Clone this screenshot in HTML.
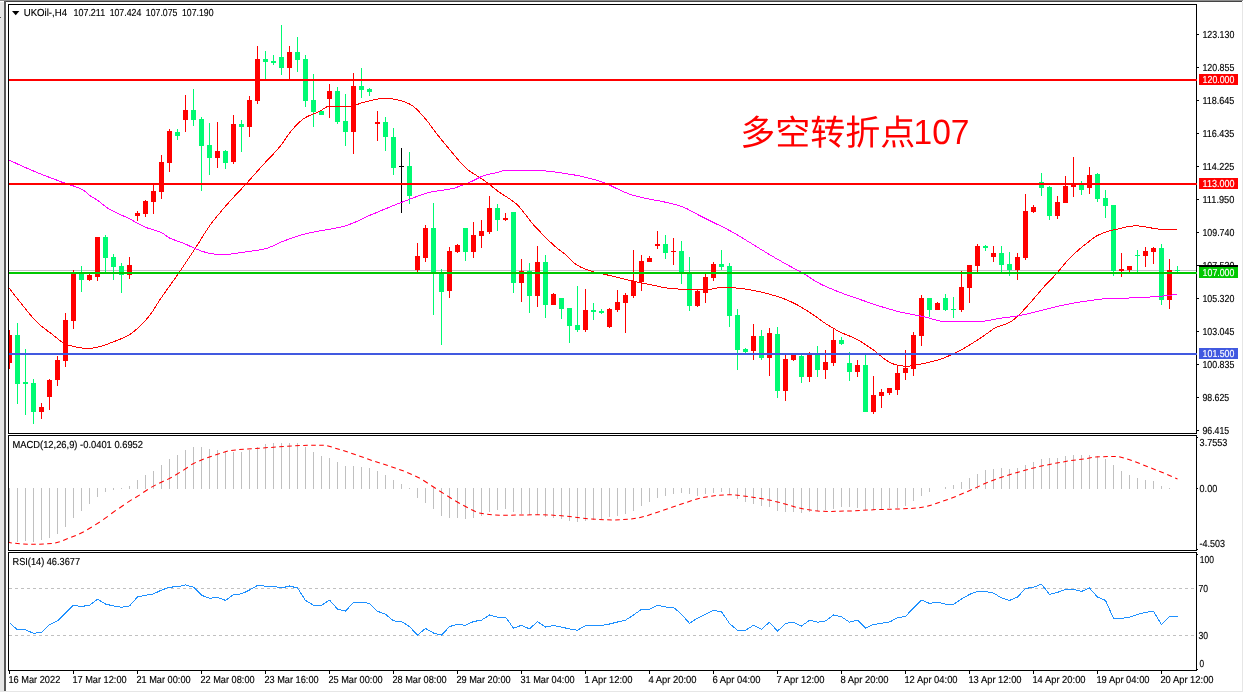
<!DOCTYPE html>
<html lang="zh">
<head>
<meta charset="utf-8">
<title>UKOil H4</title>
<style>
html,body{margin:0;padding:0;background:#fff;}
body{width:1244px;height:693px;overflow:hidden;font-family:"Liberation Sans",sans-serif;}
svg{display:block;will-change:transform;}
text{white-space:pre;text-rendering:geometricPrecision;}
</style>
</head>
<body>
<svg width="1244" height="693" viewBox="0 0 1244 693">
<rect x="0" y="0" width="1244" height="693" fill="#ffffff"/>
<rect x="0" y="0" width="1243" height="1" fill="#8e8e8e"/>
<rect x="4" y="1" width="1238" height="1" fill="#444444"/>
<rect x="0" y="2" width="4" height="689" fill="#e6e6e6"/>
<rect x="4" y="1" width="2" height="690" fill="#585858"/>
<rect x="1242" y="2" width="1" height="690" fill="#e6e6e6"/>
<rect x="0" y="691" width="1243" height="1" fill="#e6e6e6"/>
<rect x="0" y="17" width="1" height="1" fill="#555"/>
<rect x="8" y="4" width="1189" height="1" fill="#000000"/>
<rect x="8" y="433" width="1189" height="1" fill="#000000"/>
<rect x="8" y="4" width="1" height="430" fill="#000000"/>
<rect x="1196" y="4" width="1" height="430" fill="#000000"/>
<rect x="8" y="435" width="1189" height="1" fill="#000000"/>
<rect x="8" y="550" width="1189" height="1" fill="#000000"/>
<rect x="8" y="435" width="1" height="116" fill="#000000"/>
<rect x="1196" y="435" width="1" height="116" fill="#000000"/>
<rect x="8" y="552" width="1189" height="1" fill="#000000"/>
<rect x="8" y="670" width="1189" height="1" fill="#000000"/>
<rect x="8" y="552" width="1" height="119" fill="#000000"/>
<rect x="1196" y="552" width="1" height="119" fill="#000000"/>
<defs><clipPath id="cm"><rect x="9" y="5" width="1187" height="428"/></clipPath><clipPath id="c2"><rect x="9" y="436" width="1187" height="114"/></clipPath><clipPath id="c3"><rect x="9" y="553" width="1187" height="117"/></clipPath></defs>
<g clip-path="url(#cm)" shape-rendering="crispEdges">
<rect x="8" y="270" width="1188" height="1" fill="#c0c0c0"/>
<rect x="9" y="330" width="1" height="39" fill="#ff0000"/>
<rect x="7" y="335" width="5" height="28" fill="#ff0000"/>
<rect x="17" y="323" width="1" height="81" fill="#00fa72"/>
<rect x="15" y="335" width="5" height="49" fill="#00fa72"/>
<rect x="25" y="349" width="1" height="66" fill="#00fa72"/>
<rect x="23" y="382" width="5" height="2" fill="#00fa72"/>
<rect x="33" y="379" width="1" height="45" fill="#00fa72"/>
<rect x="31" y="383" width="5" height="29" fill="#00fa72"/>
<rect x="41" y="403" width="1" height="16" fill="#ff0000"/>
<rect x="39" y="407" width="5" height="5" fill="#ff0000"/>
<rect x="49" y="379" width="1" height="31" fill="#ff0000"/>
<rect x="47" y="380" width="5" height="17" fill="#ff0000"/>
<rect x="57" y="356" width="1" height="30" fill="#ff0000"/>
<rect x="55" y="360" width="5" height="20" fill="#ff0000"/>
<rect x="65" y="313" width="1" height="54" fill="#ff0000"/>
<rect x="63" y="320" width="5" height="41" fill="#ff0000"/>
<rect x="73" y="270" width="1" height="59" fill="#ff0000"/>
<rect x="71" y="273" width="5" height="48" fill="#ff0000"/>
<rect x="81" y="266" width="1" height="26" fill="#00fa72"/>
<rect x="79" y="273" width="5" height="7" fill="#00fa72"/>
<rect x="89" y="274" width="1" height="7" fill="#ff0000"/>
<rect x="87" y="275" width="5" height="5" fill="#ff0000"/>
<rect x="97" y="237" width="1" height="44" fill="#ff0000"/>
<rect x="95" y="237" width="5" height="40" fill="#ff0000"/>
<rect x="105" y="235" width="1" height="37" fill="#00fa72"/>
<rect x="103" y="237" width="5" height="21" fill="#00fa72"/>
<rect x="113" y="254" width="1" height="26" fill="#00fa72"/>
<rect x="111" y="257" width="5" height="10" fill="#00fa72"/>
<rect x="121" y="263" width="1" height="30" fill="#00fa72"/>
<rect x="119" y="266" width="5" height="9" fill="#00fa72"/>
<rect x="129" y="257" width="1" height="22" fill="#ff0000"/>
<rect x="127" y="265" width="5" height="10" fill="#ff0000"/>
<rect x="137" y="211" width="1" height="10" fill="#ff0000"/>
<rect x="135" y="213" width="5" height="3" fill="#ff0000"/>
<rect x="145" y="200" width="1" height="17" fill="#ff0000"/>
<rect x="143" y="201" width="5" height="13" fill="#ff0000"/>
<rect x="153" y="185" width="1" height="29" fill="#ff0000"/>
<rect x="151" y="191" width="5" height="11" fill="#ff0000"/>
<rect x="161" y="155" width="1" height="44" fill="#ff0000"/>
<rect x="159" y="162" width="5" height="30" fill="#ff0000"/>
<rect x="169" y="129" width="1" height="43" fill="#ff0000"/>
<rect x="167" y="131" width="5" height="32" fill="#ff0000"/>
<rect x="177" y="129" width="1" height="11" fill="#00fa72"/>
<rect x="175" y="132" width="5" height="4" fill="#00fa72"/>
<rect x="185" y="95" width="1" height="37" fill="#ff0000"/>
<rect x="183" y="110" width="5" height="10" fill="#ff0000"/>
<rect x="193" y="89" width="1" height="37" fill="#00fa72"/>
<rect x="191" y="110" width="5" height="10" fill="#00fa72"/>
<rect x="201" y="117" width="1" height="74" fill="#00fa72"/>
<rect x="199" y="119" width="5" height="27" fill="#00fa72"/>
<rect x="209" y="123" width="1" height="52" fill="#00fa72"/>
<rect x="207" y="145" width="5" height="13" fill="#00fa72"/>
<rect x="217" y="122" width="1" height="46" fill="#ff0000"/>
<rect x="215" y="151" width="5" height="7" fill="#ff0000"/>
<rect x="225" y="150" width="1" height="19" fill="#00fa72"/>
<rect x="223" y="151" width="5" height="12" fill="#00fa72"/>
<rect x="233" y="115" width="1" height="49" fill="#ff0000"/>
<rect x="231" y="124" width="5" height="38" fill="#ff0000"/>
<rect x="241" y="120" width="1" height="32" fill="#00fa72"/>
<rect x="239" y="124" width="5" height="3" fill="#00fa72"/>
<rect x="249" y="96" width="1" height="41" fill="#ff0000"/>
<rect x="247" y="100" width="5" height="27" fill="#ff0000"/>
<rect x="257" y="46" width="1" height="58" fill="#ff0000"/>
<rect x="255" y="59" width="5" height="42" fill="#ff0000"/>
<rect x="265" y="51" width="1" height="28" fill="#00fa72"/>
<rect x="263" y="59" width="5" height="3" fill="#00fa72"/>
<rect x="273" y="55" width="1" height="10" fill="#00fa72"/>
<rect x="271" y="61" width="5" height="2" fill="#00fa72"/>
<rect x="281" y="25" width="1" height="50" fill="#00fa72"/>
<rect x="279" y="57" width="5" height="11" fill="#00fa72"/>
<rect x="289" y="46" width="1" height="33" fill="#ff0000"/>
<rect x="287" y="52" width="5" height="16" fill="#ff0000"/>
<rect x="297" y="37" width="1" height="35" fill="#00fa72"/>
<rect x="295" y="52" width="5" height="8" fill="#00fa72"/>
<rect x="305" y="55" width="1" height="52" fill="#00fa72"/>
<rect x="303" y="59" width="5" height="42" fill="#00fa72"/>
<rect x="313" y="74" width="1" height="53" fill="#00fa72"/>
<rect x="311" y="100" width="5" height="12" fill="#00fa72"/>
<rect x="321" y="110" width="1" height="5" fill="#00fa72"/>
<rect x="319" y="111" width="5" height="4" fill="#00fa72"/>
<rect x="329" y="84" width="1" height="34" fill="#ff0000"/>
<rect x="327" y="91" width="5" height="8" fill="#ff0000"/>
<rect x="337" y="87" width="1" height="37" fill="#00fa72"/>
<rect x="335" y="91" width="5" height="31" fill="#00fa72"/>
<rect x="345" y="94" width="1" height="52" fill="#00fa72"/>
<rect x="343" y="121" width="5" height="11" fill="#00fa72"/>
<rect x="353" y="73" width="1" height="81" fill="#ff0000"/>
<rect x="351" y="86" width="5" height="46" fill="#ff0000"/>
<rect x="361" y="68" width="1" height="30" fill="#00fa72"/>
<rect x="359" y="86" width="5" height="4" fill="#00fa72"/>
<rect x="369" y="88" width="1" height="8" fill="#00fa72"/>
<rect x="367" y="89" width="5" height="3" fill="#00fa72"/>
<rect x="377" y="111" width="1" height="30" fill="#ff0000"/>
<rect x="375" y="122" width="5" height="2" fill="#ff0000"/>
<rect x="385" y="117" width="1" height="34" fill="#00fa72"/>
<rect x="383" y="122" width="5" height="15" fill="#00fa72"/>
<rect x="393" y="128" width="1" height="47" fill="#00fa72"/>
<rect x="391" y="137" width="5" height="31" fill="#00fa72"/>
<rect x="401" y="148" width="1" height="65" fill="#000000"/>
<rect x="399" y="166" width="5" height="1" fill="#000000"/>
<rect x="409" y="152" width="1" height="52" fill="#00fa72"/>
<rect x="407" y="166" width="5" height="30" fill="#00fa72"/>
<rect x="417" y="243" width="1" height="29" fill="#ff0000"/>
<rect x="415" y="256" width="5" height="14" fill="#ff0000"/>
<rect x="425" y="225" width="1" height="37" fill="#ff0000"/>
<rect x="423" y="228" width="5" height="30" fill="#ff0000"/>
<rect x="433" y="203" width="1" height="112" fill="#00fa72"/>
<rect x="431" y="228" width="5" height="44" fill="#00fa72"/>
<rect x="441" y="269" width="1" height="76" fill="#00fa72"/>
<rect x="439" y="274" width="5" height="18" fill="#00fa72"/>
<rect x="449" y="247" width="1" height="51" fill="#ff0000"/>
<rect x="447" y="251" width="5" height="40" fill="#ff0000"/>
<rect x="457" y="244" width="1" height="9" fill="#ff0000"/>
<rect x="455" y="245" width="5" height="7" fill="#ff0000"/>
<rect x="465" y="228" width="1" height="33" fill="#00fa72"/>
<rect x="463" y="228" width="5" height="24" fill="#00fa72"/>
<rect x="473" y="222" width="1" height="36" fill="#ff0000"/>
<rect x="471" y="235" width="5" height="17" fill="#ff0000"/>
<rect x="481" y="220" width="1" height="28" fill="#ff0000"/>
<rect x="479" y="231" width="5" height="5" fill="#ff0000"/>
<rect x="489" y="196" width="1" height="38" fill="#ff0000"/>
<rect x="487" y="208" width="5" height="24" fill="#ff0000"/>
<rect x="497" y="204" width="1" height="27" fill="#00fa72"/>
<rect x="495" y="208" width="5" height="12" fill="#00fa72"/>
<rect x="505" y="213" width="1" height="8" fill="#ff0000"/>
<rect x="503" y="218" width="5" height="2" fill="#ff0000"/>
<rect x="513" y="212" width="1" height="81" fill="#00fa72"/>
<rect x="511" y="212" width="5" height="71" fill="#00fa72"/>
<rect x="521" y="259" width="1" height="43" fill="#ff0000"/>
<rect x="519" y="271" width="5" height="12" fill="#ff0000"/>
<rect x="529" y="263" width="1" height="50" fill="#00fa72"/>
<rect x="527" y="271" width="5" height="25" fill="#00fa72"/>
<rect x="537" y="246" width="1" height="61" fill="#ff0000"/>
<rect x="535" y="262" width="5" height="34" fill="#ff0000"/>
<rect x="545" y="255" width="1" height="63" fill="#00fa72"/>
<rect x="543" y="262" width="5" height="43" fill="#00fa72"/>
<rect x="553" y="293" width="1" height="12" fill="#ff0000"/>
<rect x="551" y="294" width="5" height="11" fill="#ff0000"/>
<rect x="561" y="298" width="1" height="21" fill="#00fa72"/>
<rect x="559" y="298" width="5" height="11" fill="#00fa72"/>
<rect x="569" y="308" width="1" height="35" fill="#00fa72"/>
<rect x="567" y="308" width="5" height="18" fill="#00fa72"/>
<rect x="577" y="286" width="1" height="46" fill="#00fa72"/>
<rect x="575" y="325" width="5" height="5" fill="#00fa72"/>
<rect x="585" y="289" width="1" height="43" fill="#ff0000"/>
<rect x="583" y="310" width="5" height="20" fill="#ff0000"/>
<rect x="593" y="303" width="1" height="17" fill="#00fa72"/>
<rect x="591" y="310" width="5" height="2" fill="#00fa72"/>
<rect x="601" y="309" width="1" height="5" fill="#00fa72"/>
<rect x="599" y="311" width="5" height="2" fill="#00fa72"/>
<rect x="609" y="308" width="1" height="20" fill="#ff0000"/>
<rect x="607" y="309" width="5" height="18" fill="#ff0000"/>
<rect x="617" y="290" width="1" height="22" fill="#ff0000"/>
<rect x="615" y="302" width="5" height="8" fill="#ff0000"/>
<rect x="625" y="293" width="1" height="40" fill="#ff0000"/>
<rect x="623" y="295" width="5" height="8" fill="#ff0000"/>
<rect x="633" y="250" width="1" height="48" fill="#ff0000"/>
<rect x="631" y="281" width="5" height="15" fill="#ff0000"/>
<rect x="641" y="255" width="1" height="36" fill="#ff0000"/>
<rect x="639" y="261" width="5" height="21" fill="#ff0000"/>
<rect x="649" y="256" width="1" height="6" fill="#ff0000"/>
<rect x="647" y="258" width="5" height="4" fill="#ff0000"/>
<rect x="657" y="231" width="1" height="18" fill="#ff0000"/>
<rect x="655" y="244" width="5" height="2" fill="#ff0000"/>
<rect x="665" y="235" width="1" height="24" fill="#00fa72"/>
<rect x="663" y="244" width="5" height="9" fill="#00fa72"/>
<rect x="673" y="238" width="1" height="27" fill="#ff0000"/>
<rect x="671" y="251" width="5" height="1" fill="#ff0000"/>
<rect x="681" y="241" width="1" height="43" fill="#00fa72"/>
<rect x="679" y="251" width="5" height="22" fill="#00fa72"/>
<rect x="689" y="257" width="1" height="54" fill="#00fa72"/>
<rect x="687" y="274" width="5" height="32" fill="#00fa72"/>
<rect x="697" y="289" width="1" height="18" fill="#ff0000"/>
<rect x="695" y="291" width="5" height="15" fill="#ff0000"/>
<rect x="705" y="274" width="1" height="29" fill="#ff0000"/>
<rect x="703" y="277" width="5" height="16" fill="#ff0000"/>
<rect x="713" y="262" width="1" height="19" fill="#ff0000"/>
<rect x="711" y="264" width="5" height="14" fill="#ff0000"/>
<rect x="721" y="250" width="1" height="20" fill="#00fa72"/>
<rect x="719" y="264" width="5" height="3" fill="#00fa72"/>
<rect x="729" y="263" width="1" height="64" fill="#00fa72"/>
<rect x="727" y="266" width="5" height="50" fill="#00fa72"/>
<rect x="737" y="309" width="1" height="61" fill="#00fa72"/>
<rect x="735" y="315" width="5" height="35" fill="#00fa72"/>
<rect x="745" y="348" width="1" height="5" fill="#00fa72"/>
<rect x="743" y="349" width="5" height="3" fill="#00fa72"/>
<rect x="753" y="324" width="1" height="36" fill="#ff0000"/>
<rect x="751" y="336" width="5" height="15" fill="#ff0000"/>
<rect x="761" y="330" width="1" height="30" fill="#00fa72"/>
<rect x="759" y="336" width="5" height="22" fill="#00fa72"/>
<rect x="769" y="328" width="1" height="48" fill="#ff0000"/>
<rect x="767" y="333" width="5" height="25" fill="#ff0000"/>
<rect x="777" y="327" width="1" height="71" fill="#00fa72"/>
<rect x="775" y="334" width="5" height="57" fill="#00fa72"/>
<rect x="785" y="355" width="1" height="46" fill="#ff0000"/>
<rect x="783" y="359" width="5" height="32" fill="#ff0000"/>
<rect x="793" y="354" width="1" height="7" fill="#ff0000"/>
<rect x="791" y="354" width="5" height="6" fill="#ff0000"/>
<rect x="801" y="355" width="1" height="28" fill="#00fa72"/>
<rect x="799" y="356" width="5" height="21" fill="#00fa72"/>
<rect x="809" y="352" width="1" height="30" fill="#ff0000"/>
<rect x="807" y="354" width="5" height="23" fill="#ff0000"/>
<rect x="817" y="346" width="1" height="31" fill="#00fa72"/>
<rect x="815" y="355" width="5" height="15" fill="#00fa72"/>
<rect x="825" y="350" width="1" height="29" fill="#ff0000"/>
<rect x="823" y="362" width="5" height="8" fill="#ff0000"/>
<rect x="833" y="329" width="1" height="37" fill="#ff0000"/>
<rect x="831" y="340" width="5" height="23" fill="#ff0000"/>
<rect x="841" y="337" width="1" height="8" fill="#00fa72"/>
<rect x="839" y="340" width="5" height="4" fill="#00fa72"/>
<rect x="849" y="352" width="1" height="29" fill="#00fa72"/>
<rect x="847" y="363" width="5" height="9" fill="#00fa72"/>
<rect x="857" y="360" width="1" height="17" fill="#ff0000"/>
<rect x="855" y="365" width="5" height="7" fill="#ff0000"/>
<rect x="865" y="355" width="1" height="57" fill="#00fa72"/>
<rect x="863" y="365" width="5" height="47" fill="#00fa72"/>
<rect x="873" y="376" width="1" height="38" fill="#ff0000"/>
<rect x="871" y="395" width="5" height="17" fill="#ff0000"/>
<rect x="881" y="389" width="1" height="19" fill="#ff0000"/>
<rect x="879" y="392" width="5" height="4" fill="#ff0000"/>
<rect x="889" y="388" width="1" height="7" fill="#ff0000"/>
<rect x="887" y="388" width="5" height="5" fill="#ff0000"/>
<rect x="897" y="365" width="1" height="30" fill="#ff0000"/>
<rect x="895" y="373" width="5" height="17" fill="#ff0000"/>
<rect x="905" y="350" width="1" height="30" fill="#ff0000"/>
<rect x="903" y="368" width="5" height="5" fill="#ff0000"/>
<rect x="913" y="332" width="1" height="44" fill="#ff0000"/>
<rect x="911" y="335" width="5" height="34" fill="#ff0000"/>
<rect x="921" y="295" width="1" height="51" fill="#ff0000"/>
<rect x="919" y="298" width="5" height="38" fill="#ff0000"/>
<rect x="929" y="298" width="1" height="19" fill="#00fa72"/>
<rect x="927" y="298" width="5" height="12" fill="#00fa72"/>
<rect x="937" y="302" width="1" height="8" fill="#ff0000"/>
<rect x="935" y="303" width="5" height="7" fill="#ff0000"/>
<rect x="945" y="294" width="1" height="17" fill="#00fa72"/>
<rect x="943" y="298" width="5" height="12" fill="#00fa72"/>
<rect x="953" y="297" width="1" height="21" fill="#00fa72"/>
<rect x="951" y="309" width="5" height="1" fill="#00fa72"/>
<rect x="961" y="271" width="1" height="41" fill="#ff0000"/>
<rect x="959" y="287" width="5" height="23" fill="#ff0000"/>
<rect x="969" y="265" width="1" height="38" fill="#ff0000"/>
<rect x="967" y="265" width="5" height="23" fill="#ff0000"/>
<rect x="977" y="244" width="1" height="28" fill="#ff0000"/>
<rect x="975" y="246" width="5" height="20" fill="#ff0000"/>
<rect x="985" y="245" width="1" height="6" fill="#00fa72"/>
<rect x="983" y="246" width="5" height="2" fill="#00fa72"/>
<rect x="993" y="246" width="1" height="16" fill="#ff0000"/>
<rect x="991" y="253" width="5" height="4" fill="#ff0000"/>
<rect x="1001" y="246" width="1" height="26" fill="#00fa72"/>
<rect x="999" y="253" width="5" height="12" fill="#00fa72"/>
<rect x="1009" y="252" width="1" height="24" fill="#00fa72"/>
<rect x="1007" y="264" width="5" height="6" fill="#00fa72"/>
<rect x="1017" y="253" width="1" height="27" fill="#ff0000"/>
<rect x="1015" y="257" width="5" height="13" fill="#ff0000"/>
<rect x="1025" y="194" width="1" height="66" fill="#ff0000"/>
<rect x="1023" y="211" width="5" height="47" fill="#ff0000"/>
<rect x="1033" y="205" width="1" height="8" fill="#ff0000"/>
<rect x="1031" y="207" width="5" height="5" fill="#ff0000"/>
<rect x="1041" y="173" width="1" height="23" fill="#00fa72"/>
<rect x="1039" y="182" width="5" height="6" fill="#00fa72"/>
<rect x="1049" y="186" width="1" height="34" fill="#00fa72"/>
<rect x="1047" y="187" width="5" height="29" fill="#00fa72"/>
<rect x="1057" y="196" width="1" height="23" fill="#ff0000"/>
<rect x="1055" y="202" width="5" height="14" fill="#ff0000"/>
<rect x="1065" y="176" width="1" height="27" fill="#ff0000"/>
<rect x="1063" y="186" width="5" height="17" fill="#ff0000"/>
<rect x="1073" y="157" width="1" height="40" fill="#ff0000"/>
<rect x="1071" y="183" width="5" height="4" fill="#ff0000"/>
<rect x="1081" y="181" width="1" height="14" fill="#00fa72"/>
<rect x="1079" y="184" width="5" height="6" fill="#00fa72"/>
<rect x="1089" y="167" width="1" height="27" fill="#ff0000"/>
<rect x="1087" y="175" width="5" height="13" fill="#ff0000"/>
<rect x="1097" y="173" width="1" height="29" fill="#00fa72"/>
<rect x="1095" y="174" width="5" height="25" fill="#00fa72"/>
<rect x="1105" y="190" width="1" height="28" fill="#00fa72"/>
<rect x="1103" y="198" width="5" height="8" fill="#00fa72"/>
<rect x="1113" y="205" width="1" height="71" fill="#00fa72"/>
<rect x="1111" y="205" width="5" height="66" fill="#00fa72"/>
<rect x="1121" y="253" width="1" height="24" fill="#ff0000"/>
<rect x="1119" y="269" width="5" height="2" fill="#ff0000"/>
<rect x="1129" y="266" width="1" height="6" fill="#ff0000"/>
<rect x="1127" y="266" width="5" height="4" fill="#ff0000"/>
<rect x="1137" y="250" width="1" height="24" fill="#00fa72"/>
<rect x="1135" y="255" width="5" height="1" fill="#00fa72"/>
<rect x="1145" y="247" width="1" height="20" fill="#ff0000"/>
<rect x="1143" y="251" width="5" height="5" fill="#ff0000"/>
<rect x="1153" y="247" width="1" height="17" fill="#ff0000"/>
<rect x="1151" y="248" width="5" height="4" fill="#ff0000"/>
<rect x="1161" y="244" width="1" height="61" fill="#00fa72"/>
<rect x="1159" y="248" width="5" height="52" fill="#00fa72"/>
<rect x="1169" y="259" width="1" height="50" fill="#ff0000"/>
<rect x="1167" y="270" width="5" height="30" fill="#ff0000"/>
<rect x="1177" y="266" width="1" height="6" fill="#00fa72"/>
<rect x="1175" y="270" width="5" height="1" fill="#00fa72"/>
</g>
<g clip-path="url(#cm)">
<polyline points="8,286.6 10,289.2 12,291.9 14,294.4 16,297 18,299.5 20,302 22,304.5 24,307 26,309.5 28,312 30,314.4 32,316.8 34,319 36,321.1 38,323.1 40,324.9 42,326.6 44,328.2 46,329.7 48,331.3 50,332.7 52,334.2 54,335.8 56,337.4 58,339.1 60,340.6 62,342.1 64,343.2 66,344.1 68,344.9 70,345.5 72,346.1 74,346.6 76,347 78,347.4 80,347.7 82,348 84,348.3 86,348.4 88,348.5 90,348.4 92,348.2 94,347.8 96,347.4 98,347 100,346.5 102,346 104,345.4 106,344.7 108,343.9 110,343.1 112,342.3 114,341.6 116,340.8 118,340 120,339.2 122,338.4 124,337.5 126,336.5 128,335.5 130,334.3 132,332.9 134,331.4 136,329.7 138,327.9 140,326 142,324.1 144,322 146,319.8 148,317.5 150,315 152,312.2 154,309.2 156,305.9 158,302.7 160,299.6 162,296.7 164,293.8 166,291 168,288.2 170,285.4 172,282.6 174,279.8 176,277 178,274.1 180,271.2 182,268.2 184,265.3 186,262.3 188,259.3 190,256.3 192,253.3 194,250.2 196,247.2 198,244 200,240.8 202,237.5 204,234.3 206,231.2 208,228.2 210,225.3 212,222.6 214,220 216,217.5 218,215.1 220,212.7 222,210.3 224,208 226,205.7 228,203.4 230,201.2 232,198.9 234,196.8 236,194.6 238,192.5 240,190.4 242,188.3 244,186.2 246,184 248,181.8 250,179.6 252,177.3 254,175 256,172.8 258,170.5 260,168.2 262,166 264,163.8 266,161.7 268,159.6 270,157.5 272,155.4 274,153.3 276,151.1 278,148.8 280,146.4 282,143.8 284,141 286,138.1 288,135.2 290,132.4 292,130 294,127.8 296,125.6 298,123.5 300,121.6 302,119.9 304,118.5 306,117.3 308,116.3 310,115.3 312,114.5 314,113.7 316,112.9 318,112 320,111.1 322,109.9 324,108.5 326,107.2 328,106.4 330,106.3 332,106.3 334,106.3 336,106.3 338,106.3 340,106.3 342,106.3 344,106.3 346,106.3 348,106.3 350,106.3 352,106 354,105.5 356,104.9 358,104.2 360,103.5 362,102.8 364,102.2 366,101.8 368,101.3 370,100.8 372,100.3 374,99.8 376,99.4 378,99 380,98.7 382,98.4 384,98.3 386,98.3 388,98.4 390,98.6 392,98.9 394,99.2 396,99.6 398,100 400,100.4 402,101 404,101.7 406,102.4 408,103.3 410,104.3 412,105.5 414,106.9 416,108.7 418,110.6 420,112.7 422,114.9 424,117.2 426,119.5 428,121.9 430,124.7 432,127.5 434,130.3 436,132.9 438,135.4 440,137.9 442,140.4 444,142.8 446,145.3 448,147.6 450,150 452,152.4 454,154.8 456,157.2 458,159.6 460,162 462,164.2 464,166.2 466,168.1 468,169.8 470,171.3 472,172.7 474,174 476,175.2 478,176.4 480,177.6 482,178.9 484,180.3 486,181.8 488,183.3 490,184.9 492,186.5 494,188.2 496,189.7 498,191.3 500,192.7 502,194.1 504,195.3 506,196.6 508,197.8 510,199.1 512,200.5 514,202 516,203.6 518,205.5 520,207.7 522,210.1 524,212.7 526,215.3 528,218 530,220.5 532,223 534,225.3 536,227.4 538,229.6 540,231.7 542,233.8 544,235.9 546,237.9 548,239.8 550,241.8 552,243.6 554,245.4 556,247.2 558,248.8 560,250.3 562,251.8 564,253.4 566,255.1 568,257 570,259 572,260.9 574,262.8 576,264.4 578,265.6 580,266.7 582,267.7 584,268.6 586,269.4 588,270.1 590,270.8 592,271.4 594,272 596,272.5 598,273 600,273.4 602,273.9 604,274.3 606,274.7 608,275.1 610,275.5 612,276 614,276.5 616,277 618,277.5 620,278 622,278.5 624,279 626,279.5 628,279.9 630,280.4 632,280.9 634,281.3 636,281.8 638,282.2 640,282.6 642,283 644,283.4 646,283.8 648,284.2 650,284.6 652,285 654,285.4 656,285.8 658,286.3 660,286.7 662,287.2 664,287.6 666,287.9 668,288.3 670,288.5 672,288.7 674,288.8 676,288.9 678,289 680,289.1 682,289.2 684,289.3 686,289.3 688,289.4 690,289.5 692,289.5 694,289.6 696,289.6 698,289.6 700,289.7 702,289.7 704,289.7 706,289.7 708,289.5 710,289.3 712,289 714,288.7 716,288.4 718,287.8 720,287.3 722,287.1 724,287.1 726,287.2 728,287.3 730,287.5 732,287.6 734,287.8 736,288 738,288.2 740,288.4 742,288.7 744,288.9 746,289.2 748,289.5 750,289.8 752,290.2 754,290.6 756,291 758,291.4 760,291.9 762,292.3 764,292.8 766,293.3 768,293.8 770,294.3 772,294.9 774,295.5 776,296.1 778,296.7 780,297.4 782,298.1 784,298.8 786,299.6 788,300.4 790,301.3 792,302.2 794,303.2 796,304.2 798,305.3 800,306.5 802,307.7 804,308.9 806,310.1 808,311.4 810,312.7 812,313.9 814,315.3 816,316.7 818,318.2 820,319.6 822,321.1 824,322.5 826,323.8 828,325 830,326.3 832,327.5 834,328.6 836,329.8 838,330.9 840,331.9 842,332.9 844,333.8 846,334.6 848,335.4 850,336.2 852,337 854,337.9 856,338.8 858,339.9 860,341.1 862,342.4 864,343.7 866,345 868,346.3 870,347.7 872,349 874,350.4 876,351.9 878,353.6 880,355.4 882,357.1 884,358.7 886,360 888,361.3 890,362.4 892,363.4 894,364.2 896,364.8 898,365.2 900,365.5 902,365.8 904,366.1 906,366.2 908,366.2 910,366 912,365.8 914,365.4 916,365 918,364.5 920,364.1 922,363.8 924,363.4 926,362.9 928,362.5 930,362.1 932,361.6 934,361.1 936,360.5 938,360 940,359.3 942,358.6 944,357.9 946,357.1 948,356.2 950,355.4 952,354.5 954,353.5 956,352.6 958,351.6 960,350.6 962,349.5 964,348.3 966,347.2 968,346 970,344.7 972,343.5 974,342.2 976,340.9 978,339.6 980,338.3 982,336.9 984,335.6 986,334.2 988,332.8 990,331.3 992,329.8 994,328.5 996,327.3 998,326.4 1000,325.9 1002,325.4 1004,324.8 1006,324 1008,323.1 1010,322 1012,320.8 1014,319.4 1016,317.6 1018,315.7 1020,313.8 1022,311.8 1024,309.7 1026,307.6 1028,305.3 1030,303.1 1032,300.8 1034,298.5 1036,296.1 1038,293.7 1040,291.4 1042,289 1044,286.8 1046,284.6 1048,282.5 1050,280.5 1052,278.4 1054,276.3 1056,274.2 1058,271.9 1060,269.5 1062,267 1064,264.5 1066,262.2 1068,259.9 1070,257.9 1072,255.9 1074,254 1076,252.2 1078,250.4 1080,248.7 1082,247 1084,245.4 1086,243.8 1088,242.3 1090,240.7 1092,239.1 1094,237.6 1096,236.3 1098,235.2 1100,234.3 1102,233.4 1104,232.7 1106,232 1108,231.4 1110,230.8 1112,230.3 1114,229.8 1116,229.4 1118,228.9 1120,228.5 1122,228 1124,227.5 1126,227.1 1128,226.7 1130,226.3 1132,226.1 1134,225.9 1136,225.8 1138,225.9 1140,226.1 1142,226.4 1144,226.7 1146,227 1148,227.3 1150,227.7 1152,228.1 1154,228.5 1156,228.8 1158,229 1160,229.1 1162,229.2 1164,229.2 1166,229.3 1168,229.3 1170,229.3 1172,229.4 1174,229.4 1176,229.4 1177.3,229.4" fill="none" stroke="#ff0000" stroke-width="1" stroke-linejoin="round" shape-rendering="crispEdges"/>
<polyline points="9,160 11,161 13,161.9 15,162.8 17,163.7 19,164.7 21,165.6 23,166.5 25,167.4 27,168.2 29,169.1 31,170 33,170.8 35,171.7 37,172.5 39,173.3 41,174.1 43,174.9 45,175.7 47,176.4 49,177.2 51,177.9 53,178.7 55,179.5 57,180.2 59,181 61,181.8 63,182.5 65,183.2 67,183.9 69,184.5 71,185.2 73,185.8 75,186.6 77,187.3 79,188 81,188.9 83,189.9 85,191.4 87,193.1 89,194.9 91,196.3 93,197.6 95,198.7 97,199.9 99,201.3 101,202.9 103,204.6 105,206.2 107,207.7 109,208.9 111,210 113,211 115,212.1 117,213 119,214 121,214.9 123,215.8 125,216.7 127,217.6 129,218.6 131,219.6 133,220.7 135,221.8 137,223 139,224.1 141,225.1 143,226.1 145,227 147,227.8 149,228.5 151,229.1 153,229.7 155,230.3 157,230.9 159,231.6 161,232.4 163,233.5 165,234.9 167,236.4 169,237.7 171,238.7 173,239.5 175,240.2 177,240.9 179,241.6 181,242.3 183,243.1 185,243.9 187,244.8 189,245.7 191,246.7 193,247.6 195,248.5 197,249.4 199,250.1 201,250.9 203,251.5 205,252.2 207,252.8 209,253.2 211,253.6 213,253.9 215,254.2 217,254.5 219,254.7 221,254.8 223,254.8 225,254.7 227,254.5 229,254.3 231,254 233,253.7 235,253.4 237,253.1 239,252.8 241,252.5 243,252.2 245,252 247,251.7 249,251.5 251,251.2 253,250.9 255,250.6 257,250.3 259,250 261,249.6 263,249.2 265,248.8 267,248.2 269,247.6 271,246.7 273,245.9 275,244.9 277,243.9 279,243 281,242.1 283,241.3 285,240.6 287,239.8 289,239.1 291,238.3 293,237.6 295,236.9 297,236.3 299,235.6 301,235 303,234.4 305,233.9 307,233.4 309,233 311,232.5 313,232.1 315,231.8 317,231.4 319,231.1 321,230.7 323,230.4 325,230.1 327,229.7 329,229.4 331,229 333,228.7 335,228.3 337,227.9 339,227.4 341,227 343,226.5 345,225.9 347,225.3 349,224.6 351,223.8 353,223 355,222.2 357,221.3 359,220.4 361,219.4 363,218.5 365,217.6 367,216.6 369,215.7 371,214.8 373,214 375,213.2 377,212.3 379,211.5 381,210.7 383,209.8 385,209 387,208.2 389,207.3 391,206.5 393,205.7 395,204.9 397,204.1 399,203.3 401,202.6 403,201.8 405,201.1 407,200.3 409,199.5 411,198.7 413,198 415,197.2 417,196.5 419,195.7 421,195 423,194.4 425,193.7 427,193.1 429,192.6 431,192.1 433,191.7 435,191.3 437,191 439,190.7 441,190.5 443,190.2 445,189.9 447,189.6 449,189.3 451,188.9 453,188.4 455,187.9 457,187.2 459,186.5 461,185.8 463,185 465,184.2 467,183.4 469,182.6 471,181.7 473,180.8 475,179.8 477,178.7 479,177.7 481,176.8 483,175.9 485,175.3 487,174.7 489,174.3 491,173.8 493,173.4 495,173 497,172.6 499,172.1 501,171.5 503,170.6 505,170.3 507,170.3 509,170.3 511,170.3 513,170.3 515,170.3 517,170.3 519,170.3 521,170.3 523,170.3 525,170.3 527,170.3 529,170.3 531,170.3 533,170.3 535,170.3 537,170.4 539,170.4 541,170.5 543,170.7 545,170.9 547,171.1 549,171.3 551,171.5 553,171.8 555,172 557,172.3 559,172.6 561,172.9 563,173.2 565,173.5 567,173.8 569,174.1 571,174.4 573,174.7 575,175.1 577,175.5 579,175.9 581,176.3 583,176.7 585,177.2 587,177.7 589,178.2 591,178.7 593,179.2 595,179.8 597,180.3 599,180.9 601,181.6 603,182.3 605,183.2 607,184 609,184.9 611,185.8 613,186.8 615,187.7 617,188.7 619,189.6 621,190.6 623,191.5 625,192.3 627,193.1 629,193.9 631,194.6 633,195.2 635,195.8 637,196.3 639,196.8 641,197.3 643,197.7 645,198.2 647,198.6 649,199 651,199.4 653,199.8 655,200.1 657,200.5 659,200.9 661,201.3 663,201.7 665,202.1 667,202.5 669,203 671,203.5 673,204 675,204.5 677,205.1 679,205.7 681,206.3 683,207 685,207.9 687,208.8 689,209.8 691,210.9 693,212 695,213.1 697,214.2 699,215.3 701,216.3 703,217.3 705,218.3 707,219.3 709,220.3 711,221.3 713,222.2 715,223.2 717,224.2 719,225.1 721,226.1 723,227.1 725,228.1 727,229.2 729,230.2 731,231.3 733,232.4 735,233.6 737,234.7 739,235.9 741,237.1 743,238.3 745,239.5 747,240.8 749,242 751,243.2 753,244.5 755,245.7 757,246.9 759,248.2 761,249.4 763,250.6 765,251.8 767,253.1 769,254.3 771,255.5 773,256.6 775,257.8 777,259 779,260.1 781,261.2 783,262.4 785,263.5 787,264.6 789,265.7 791,266.8 793,267.8 795,268.9 797,269.9 799,270.9 801,272 803,273.2 805,274.5 807,275.7 809,277 811,278.3 813,279.6 815,280.9 817,282.1 819,283.2 821,284.2 823,285.2 825,286.1 827,287 829,287.9 831,288.7 833,289.6 835,290.4 837,291.2 839,292 841,292.7 843,293.5 845,294.3 847,295 849,295.7 851,296.4 853,297.1 855,297.8 857,298.4 859,299.1 861,299.8 863,300.5 865,301.2 867,301.9 869,302.7 871,303.3 873,304 875,304.6 877,305.3 879,305.9 881,306.5 883,307.2 885,307.8 887,308.4 889,309 891,309.5 893,310.1 895,310.6 897,311.2 899,311.7 901,312.2 903,312.6 905,313.1 907,313.5 909,313.9 911,314.3 913,314.6 915,315 917,315.4 919,315.7 921,316.1 923,316.5 925,317 927,317.5 929,318.1 931,318.7 933,319.3 935,319.9 937,320.3 939,320.8 941,321.1 943,321.3 945,321.3 947,321.3 949,321.3 951,321.3 953,321.3 955,321.3 957,321.3 959,321.3 961,321.3 963,321.3 965,321.3 967,321.3 969,321.3 971,321.3 973,321.3 975,321.3 977,321.3 979,321.3 981,321.3 983,321.2 985,321 987,320.7 989,320.4 991,320 993,319.5 995,319.1 997,318.8 999,318.5 1001,318.2 1003,317.9 1005,317.7 1007,317.4 1009,317.2 1011,316.9 1013,316.7 1015,316.4 1017,316 1019,315.7 1021,315.3 1023,314.9 1025,314.4 1027,313.9 1029,313.4 1031,313 1033,312.5 1035,312 1037,311.5 1039,311 1041,310.5 1043,310 1045,309.5 1047,309 1049,308.5 1051,308 1053,307.5 1055,307 1057,306.5 1059,306.1 1061,305.6 1063,305.2 1065,304.8 1067,304.4 1069,304 1071,303.6 1073,303.3 1075,302.9 1077,302.6 1079,302.3 1081,301.9 1083,301.6 1085,301.3 1087,301 1089,300.7 1091,300.4 1093,300.2 1095,299.9 1097,299.6 1099,299.4 1101,299.1 1103,298.9 1105,298.6 1107,298.5 1109,298.3 1111,298.3 1113,298.2 1115,298.2 1117,298.1 1119,298.1 1121,298.1 1123,298.1 1125,298 1127,298 1129,298 1131,297.9 1133,297.9 1135,297.8 1137,297.7 1139,297.7 1141,297.6 1143,297.5 1145,297.3 1147,297.2 1149,297.1 1151,296.9 1153,296.8 1155,296.7 1157,296.5 1159,296.4 1161,296.2 1163,296 1165,295.8 1167,295.6 1169,295.3 1171,295.1 1173,294.9 1175,294.6 1177,294.3 1177.3,294.3" fill="none" stroke="#ff00ff" stroke-width="1" stroke-linejoin="round" shape-rendering="crispEdges"/>
</g>
<g shape-rendering="crispEdges">
<rect x="9" y="79" width="1188" height="2" fill="#ff0000"/>
<rect x="9" y="183" width="1188" height="2" fill="#ff0000"/>
<rect x="9" y="353" width="1188" height="2" fill="#4159e0"/>
<rect x="9" y="272" width="1188" height="2" fill="#00c800"/>
</g>
<g clip-path="url(#c2)">
<g shape-rendering="crispEdges">
<rect x="9" y="488" width="1" height="54" fill="#c0c0c0"/>
<rect x="17" y="488" width="1" height="54" fill="#c0c0c0"/>
<rect x="25" y="488" width="1" height="53" fill="#c0c0c0"/>
<rect x="33" y="488" width="1" height="54" fill="#c0c0c0"/>
<rect x="41" y="488" width="1" height="52" fill="#c0c0c0"/>
<rect x="49" y="488" width="1" height="50" fill="#c0c0c0"/>
<rect x="57" y="488" width="1" height="46" fill="#c0c0c0"/>
<rect x="65" y="488" width="1" height="39" fill="#c0c0c0"/>
<rect x="73" y="488" width="1" height="30" fill="#c0c0c0"/>
<rect x="81" y="488" width="1" height="23" fill="#c0c0c0"/>
<rect x="89" y="488" width="1" height="16" fill="#c0c0c0"/>
<rect x="97" y="488" width="1" height="9" fill="#c0c0c0"/>
<rect x="105" y="488" width="1" height="4" fill="#c0c0c0"/>
<rect x="113" y="488" width="1" height="2" fill="#c0c0c0"/>
<rect x="121" y="488" width="1" height="1" fill="#c0c0c0"/>
<rect x="129" y="486" width="1" height="3" fill="#c0c0c0"/>
<rect x="137" y="480" width="1" height="9" fill="#c0c0c0"/>
<rect x="145" y="475" width="1" height="14" fill="#c0c0c0"/>
<rect x="153" y="471" width="1" height="18" fill="#c0c0c0"/>
<rect x="161" y="465" width="1" height="24" fill="#c0c0c0"/>
<rect x="169" y="459" width="1" height="30" fill="#c0c0c0"/>
<rect x="177" y="455" width="1" height="34" fill="#c0c0c0"/>
<rect x="185" y="450" width="1" height="39" fill="#c0c0c0"/>
<rect x="193" y="447" width="1" height="42" fill="#c0c0c0"/>
<rect x="201" y="447" width="1" height="42" fill="#c0c0c0"/>
<rect x="209" y="449" width="1" height="40" fill="#c0c0c0"/>
<rect x="217" y="450" width="1" height="39" fill="#c0c0c0"/>
<rect x="225" y="451" width="1" height="38" fill="#c0c0c0"/>
<rect x="233" y="452" width="1" height="37" fill="#c0c0c0"/>
<rect x="241" y="452" width="1" height="37" fill="#c0c0c0"/>
<rect x="249" y="450" width="1" height="39" fill="#c0c0c0"/>
<rect x="257" y="447" width="1" height="42" fill="#c0c0c0"/>
<rect x="265" y="444" width="1" height="45" fill="#c0c0c0"/>
<rect x="273" y="443" width="1" height="46" fill="#c0c0c0"/>
<rect x="281" y="443" width="1" height="46" fill="#c0c0c0"/>
<rect x="289" y="443" width="1" height="46" fill="#c0c0c0"/>
<rect x="297" y="443" width="1" height="46" fill="#c0c0c0"/>
<rect x="305" y="447" width="1" height="42" fill="#c0c0c0"/>
<rect x="313" y="452" width="1" height="37" fill="#c0c0c0"/>
<rect x="321" y="456" width="1" height="33" fill="#c0c0c0"/>
<rect x="329" y="458" width="1" height="31" fill="#c0c0c0"/>
<rect x="337" y="462" width="1" height="27" fill="#c0c0c0"/>
<rect x="345" y="466" width="1" height="23" fill="#c0c0c0"/>
<rect x="353" y="466" width="1" height="23" fill="#c0c0c0"/>
<rect x="361" y="467" width="1" height="22" fill="#c0c0c0"/>
<rect x="369" y="468" width="1" height="21" fill="#c0c0c0"/>
<rect x="377" y="471" width="1" height="18" fill="#c0c0c0"/>
<rect x="385" y="475" width="1" height="14" fill="#c0c0c0"/>
<rect x="393" y="480" width="1" height="9" fill="#c0c0c0"/>
<rect x="401" y="484" width="1" height="5" fill="#c0c0c0"/>
<rect x="409" y="488" width="1" height="1" fill="#c0c0c0"/>
<rect x="417" y="488" width="1" height="10" fill="#c0c0c0"/>
<rect x="425" y="488" width="1" height="15" fill="#c0c0c0"/>
<rect x="433" y="488" width="1" height="21" fill="#c0c0c0"/>
<rect x="441" y="488" width="1" height="28" fill="#c0c0c0"/>
<rect x="449" y="488" width="1" height="30" fill="#c0c0c0"/>
<rect x="457" y="488" width="1" height="30" fill="#c0c0c0"/>
<rect x="465" y="488" width="1" height="31" fill="#c0c0c0"/>
<rect x="473" y="488" width="1" height="30" fill="#c0c0c0"/>
<rect x="481" y="488" width="1" height="28" fill="#c0c0c0"/>
<rect x="489" y="488" width="1" height="24" fill="#c0c0c0"/>
<rect x="497" y="488" width="1" height="22" fill="#c0c0c0"/>
<rect x="505" y="488" width="1" height="21" fill="#c0c0c0"/>
<rect x="513" y="488" width="1" height="24" fill="#c0c0c0"/>
<rect x="521" y="488" width="1" height="26" fill="#c0c0c0"/>
<rect x="529" y="488" width="1" height="27" fill="#c0c0c0"/>
<rect x="537" y="488" width="1" height="27" fill="#c0c0c0"/>
<rect x="545" y="488" width="1" height="29" fill="#c0c0c0"/>
<rect x="553" y="488" width="1" height="30" fill="#c0c0c0"/>
<rect x="561" y="488" width="1" height="31" fill="#c0c0c0"/>
<rect x="569" y="488" width="1" height="33" fill="#c0c0c0"/>
<rect x="577" y="488" width="1" height="34" fill="#c0c0c0"/>
<rect x="585" y="488" width="1" height="33" fill="#c0c0c0"/>
<rect x="593" y="488" width="1" height="32" fill="#c0c0c0"/>
<rect x="601" y="488" width="1" height="31" fill="#c0c0c0"/>
<rect x="609" y="488" width="1" height="29" fill="#c0c0c0"/>
<rect x="617" y="488" width="1" height="28" fill="#c0c0c0"/>
<rect x="625" y="488" width="1" height="26" fill="#c0c0c0"/>
<rect x="633" y="488" width="1" height="23" fill="#c0c0c0"/>
<rect x="641" y="488" width="1" height="18" fill="#c0c0c0"/>
<rect x="649" y="488" width="1" height="14" fill="#c0c0c0"/>
<rect x="657" y="488" width="1" height="10" fill="#c0c0c0"/>
<rect x="665" y="488" width="1" height="8" fill="#c0c0c0"/>
<rect x="673" y="488" width="1" height="6" fill="#c0c0c0"/>
<rect x="681" y="488" width="1" height="5" fill="#c0c0c0"/>
<rect x="689" y="488" width="1" height="6" fill="#c0c0c0"/>
<rect x="697" y="488" width="1" height="8" fill="#c0c0c0"/>
<rect x="705" y="488" width="1" height="6" fill="#c0c0c0"/>
<rect x="713" y="488" width="1" height="5" fill="#c0c0c0"/>
<rect x="721" y="488" width="1" height="4" fill="#c0c0c0"/>
<rect x="729" y="488" width="1" height="7" fill="#c0c0c0"/>
<rect x="737" y="488" width="1" height="11" fill="#c0c0c0"/>
<rect x="745" y="488" width="1" height="14" fill="#c0c0c0"/>
<rect x="753" y="488" width="1" height="16" fill="#c0c0c0"/>
<rect x="761" y="488" width="1" height="18" fill="#c0c0c0"/>
<rect x="769" y="488" width="1" height="19" fill="#c0c0c0"/>
<rect x="777" y="488" width="1" height="23" fill="#c0c0c0"/>
<rect x="785" y="488" width="1" height="24" fill="#c0c0c0"/>
<rect x="793" y="488" width="1" height="24" fill="#c0c0c0"/>
<rect x="801" y="488" width="1" height="25" fill="#c0c0c0"/>
<rect x="809" y="488" width="1" height="24" fill="#c0c0c0"/>
<rect x="817" y="488" width="1" height="23" fill="#c0c0c0"/>
<rect x="825" y="488" width="1" height="22" fill="#c0c0c0"/>
<rect x="833" y="488" width="1" height="21" fill="#c0c0c0"/>
<rect x="841" y="488" width="1" height="19" fill="#c0c0c0"/>
<rect x="849" y="488" width="1" height="19" fill="#c0c0c0"/>
<rect x="857" y="488" width="1" height="20" fill="#c0c0c0"/>
<rect x="865" y="488" width="1" height="22" fill="#c0c0c0"/>
<rect x="873" y="488" width="1" height="22" fill="#c0c0c0"/>
<rect x="881" y="488" width="1" height="22" fill="#c0c0c0"/>
<rect x="889" y="488" width="1" height="20" fill="#c0c0c0"/>
<rect x="897" y="488" width="1" height="20" fill="#c0c0c0"/>
<rect x="905" y="488" width="1" height="18" fill="#c0c0c0"/>
<rect x="913" y="488" width="1" height="13" fill="#c0c0c0"/>
<rect x="921" y="488" width="1" height="8" fill="#c0c0c0"/>
<rect x="929" y="488" width="1" height="4" fill="#c0c0c0"/>
<rect x="945" y="487" width="1" height="2" fill="#c0c0c0"/>
<rect x="953" y="485" width="1" height="4" fill="#c0c0c0"/>
<rect x="961" y="482" width="1" height="7" fill="#c0c0c0"/>
<rect x="969" y="478" width="1" height="11" fill="#c0c0c0"/>
<rect x="977" y="474" width="1" height="15" fill="#c0c0c0"/>
<rect x="985" y="470" width="1" height="19" fill="#c0c0c0"/>
<rect x="993" y="469" width="1" height="20" fill="#c0c0c0"/>
<rect x="1001" y="468" width="1" height="21" fill="#c0c0c0"/>
<rect x="1009" y="469" width="1" height="20" fill="#c0c0c0"/>
<rect x="1017" y="468" width="1" height="21" fill="#c0c0c0"/>
<rect x="1025" y="465" width="1" height="24" fill="#c0c0c0"/>
<rect x="1033" y="462" width="1" height="27" fill="#c0c0c0"/>
<rect x="1041" y="459" width="1" height="30" fill="#c0c0c0"/>
<rect x="1049" y="458" width="1" height="31" fill="#c0c0c0"/>
<rect x="1057" y="458" width="1" height="31" fill="#c0c0c0"/>
<rect x="1065" y="456" width="1" height="33" fill="#c0c0c0"/>
<rect x="1073" y="455" width="1" height="34" fill="#c0c0c0"/>
<rect x="1081" y="455" width="1" height="34" fill="#c0c0c0"/>
<rect x="1089" y="455" width="1" height="34" fill="#c0c0c0"/>
<rect x="1097" y="456" width="1" height="33" fill="#c0c0c0"/>
<rect x="1105" y="459" width="1" height="30" fill="#c0c0c0"/>
<rect x="1113" y="465" width="1" height="24" fill="#c0c0c0"/>
<rect x="1121" y="471" width="1" height="18" fill="#c0c0c0"/>
<rect x="1129" y="475" width="1" height="14" fill="#c0c0c0"/>
<rect x="1137" y="478" width="1" height="11" fill="#c0c0c0"/>
<rect x="1145" y="480" width="1" height="9" fill="#c0c0c0"/>
<rect x="1153" y="481" width="1" height="8" fill="#c0c0c0"/>
<rect x="1161" y="486" width="1" height="3" fill="#c0c0c0"/>
<rect x="1169" y="488" width="1" height="1" fill="#c0c0c0"/>
</g>
<path d="M9.0 542.5L11.8 542.9M15.2 543.3L19.8 543.8M23.2 544.0L27.8 544.2M31.2 544.3L35.8 544.3M39.2 544.2L43.8 544.0M47.2 543.8L51.8 543.4M55.2 542.9L59.8 541.8M63.2 540.4L67.8 538.6M71.2 537.2L75.8 535.4M79.2 534.0L83.8 531.8M87.2 529.7L91.8 527.0M95.2 524.9L99.8 522.0M103.2 519.7L107.8 516.3M111.2 513.7L115.8 510.4M119.2 508.2L123.8 505.0M127.2 502.6L131.8 499.6M135.2 497.8L139.8 494.9M143.2 492.5L147.8 489.5M151.2 487.4L155.8 484.9M159.2 483.2L163.8 481.1M167.2 479.6L171.8 477.2M175.2 475.2L179.8 472.4M183.2 470.4L187.8 467.2M191.2 464.8L195.8 462.4M199.2 460.9L203.8 459.0M207.2 457.8L211.8 456.2M215.2 455.0L219.8 453.5M223.2 452.4L227.8 451.1M231.2 450.4L235.8 449.9M239.2 449.6L243.8 449.3M247.2 449.0L251.8 448.7M255.2 448.5L259.8 448.2M263.2 447.9L267.8 447.6M271.2 447.4L275.8 447.1M279.2 446.8L283.8 446.6M287.2 446.3L291.8 446.0M295.2 445.8L299.8 445.5M303.2 445.4L307.8 445.3M311.2 445.3L315.8 445.3M319.2 445.3L323.8 445.3M327.2 445.8L331.8 447.1M335.2 448.2L339.8 449.5M343.2 450.6L347.8 452.1M351.2 453.2L355.8 454.8M359.2 456.0L363.8 457.6M367.2 458.8L371.8 460.5M375.2 461.6L379.8 463.1M383.2 464.1L387.8 465.6M391.2 466.7L395.8 468.2M399.2 469.4L403.8 471.1M407.2 472.5L411.8 474.5M415.2 476.0L419.8 478.3M423.2 480.3L427.8 483.2M431.2 485.5L435.8 488.5M439.2 490.7L443.8 493.6M447.2 495.8L451.8 498.7M455.2 500.8L459.8 503.5M463.2 505.3L467.8 507.7M471.2 509.5L475.8 511.7M479.2 512.9L483.8 513.8M487.2 514.2L491.8 514.7M495.2 515.0L499.8 515.2M503.2 515.3L507.8 515.3M511.2 515.2L515.8 515.1M519.2 515.1L523.8 515.0M527.2 514.9L531.8 514.8M535.2 514.7L539.8 514.7M543.2 514.7L547.8 514.9M551.2 515.0L555.8 515.4M559.2 515.6L563.8 516.0M567.2 516.3L571.8 516.8M575.2 517.2L579.8 517.7M583.2 518.2L587.8 518.7M591.2 519.0L595.8 519.3M599.2 519.5L603.8 519.7M607.2 519.8L611.8 519.9M615.2 519.9L619.8 519.7M623.2 519.5L627.8 519.3M631.2 519.0L635.8 518.3M639.2 517.7L643.8 516.6M647.2 515.7L651.8 514.1M655.2 513.0L659.8 511.4M663.2 510.3L667.8 508.7M671.2 507.5L675.8 505.9M679.2 504.8L683.8 503.3M687.2 502.2L691.8 500.6M695.2 499.5L699.8 498.3M703.2 497.6L707.8 496.8M711.2 496.3L715.8 495.6M719.2 495.3L723.8 494.9M727.2 494.7L731.8 494.8M735.2 495.0L739.8 495.5M743.2 496.0L747.8 496.6M751.2 497.0L755.8 497.7M759.2 498.3L763.8 499.1M767.2 499.7L771.8 500.6M775.2 501.4L779.8 502.5M783.2 503.4L787.8 504.7M791.2 505.8L795.8 507.3M799.2 508.1L803.8 509.0M807.2 509.6L811.8 510.3M815.2 510.7L819.8 511.2M823.2 511.3L827.8 511.4M831.2 511.4L835.8 511.3M839.2 511.2L843.8 511.1M847.2 511.0L851.8 510.9M855.2 510.8L859.8 510.5M863.2 510.3L867.8 510.1M871.2 509.9L875.8 509.6M879.2 509.5L883.8 509.4M887.2 509.3L891.8 509.2M895.2 509.1L899.8 508.9M903.2 508.8L907.8 508.6M911.2 508.4L915.8 508.0M919.2 507.7L923.8 507.1M927.2 506.3L931.8 504.9M935.2 503.8L939.8 502.3M943.2 501.1L947.8 499.5M951.2 498.2L955.8 496.4M959.2 495.0L963.8 493.1M967.2 491.7L971.8 489.6M975.2 488.1L979.8 485.9M983.2 484.2L987.8 482.2M991.2 480.9L995.8 479.2M999.2 478.1L1003.8 476.6M1007.2 475.5L1011.8 474.1M1015.2 473.1L1019.8 471.7M1023.2 470.7L1027.8 469.5M1031.2 468.6L1035.8 467.4M1039.2 466.6L1043.8 465.6M1047.2 464.9L1051.8 463.9M1055.2 463.3L1059.8 462.5M1063.2 461.9L1067.8 461.1M1071.2 460.6L1075.8 460.0M1079.2 459.5L1083.8 458.9M1087.2 458.4L1091.8 457.6M1095.2 457.1L1099.8 456.8M1103.2 456.7L1107.8 456.5M1111.2 456.4L1115.8 456.4M1119.2 456.8L1123.8 458.0M1127.2 459.1L1131.8 460.6M1135.2 461.7L1139.8 463.5M1143.2 464.9L1147.8 466.7M1151.2 468.1L1155.8 469.9M1159.2 471.2L1163.8 473.1M1167.2 474.5L1171.8 476.5M1175.2 477.9L1177.5 478.9" fill="none" stroke="#ff0000" stroke-width="1.05"/>
</g>
<g clip-path="url(#c3)">
<line x1="9" y1="588.5" x2="1196" y2="588.5" stroke="#c0c0c0" stroke-width="1" stroke-dasharray="3 3" shape-rendering="crispEdges"/>
<line x1="9" y1="635.5" x2="1196" y2="635.5" stroke="#c0c0c0" stroke-width="1" stroke-dasharray="3 3" shape-rendering="crispEdges"/>
<polyline points="9.5,622.7 17.5,629.9 25.5,629.9 33.5,633.3 41.5,632.3 49.5,624.8 57.5,620.9 65.5,613 73.5,605.2 81.5,606.5 89.5,605.2 97.5,599.3 105.5,604 113.5,606 121.5,607.3 129.5,606 137.5,597 145.5,595.2 153.5,593.9 161.5,590.1 169.5,587.2 177.5,586.7 185.5,584.9 193.5,587.2 201.5,595.2 209.5,598.3 217.5,597.3 225.5,600.4 233.5,594.4 241.5,593.9 249.5,590.1 257.5,585.4 265.5,586.2 273.5,586.2 281.5,588 289.5,586 297.5,588 305.5,600.4 313.5,605.2 321.5,605.2 329.5,600.1 337.5,609.1 345.5,611.2 353.5,602.2 361.5,602.2 369.5,603.4 377.5,611.2 385.5,614.3 393.5,620.9 401.5,621.5 409.5,626.6 417.5,635.1 425.5,628.4 433.5,633 441.5,635.1 449.5,626.6 457.5,624.3 465.5,625.3 473.5,621.5 481.5,620.2 489.5,615 497.5,617.1 505.5,617.1 513.5,628.1 521.5,625.3 529.5,628.9 537.5,621.5 545.5,627.1 553.5,625.6 561.5,627.1 569.5,628.9 577.5,630.2 585.5,625.6 593.5,625.6 601.5,625.6 609.5,624 617.5,622 625.5,620.2 633.5,615 641.5,609.4 649.5,609.1 657.5,605.2 665.5,607 673.5,607.3 681.5,614.3 689.5,623.3 697.5,618.1 705.5,614.3 713.5,610.4 721.5,611.7 729.5,623.5 737.5,630.2 745.5,630.2 753.5,625.3 761.5,629.2 769.5,622.2 777.5,631.2 785.5,623.3 793.5,622.2 801.5,626.1 809.5,620.2 817.5,622.2 825.5,620.9 833.5,615 841.5,616.8 849.5,622.2 857.5,620.2 865.5,628.1 873.5,624.5 881.5,623.3 889.5,622 897.5,617.9 905.5,616.3 913.5,608.1 921.5,600.1 929.5,603.4 937.5,602.2 945.5,604.2 953.5,604.2 961.5,599.1 969.5,594.4 977.5,591.4 985.5,591.4 993.5,593.2 1001.5,597.8 1009.5,600.4 1017.5,597 1025.5,588.5 1033.5,587.2 1041.5,584.2 1049.5,594.4 1057.5,592.4 1065.5,589.3 1073.5,589.3 1081.5,591.4 1089.5,588 1097.5,597 1105.5,600.4 1113.5,618.4 1121.5,618.4 1129.5,617.3 1137.5,614.5 1145.5,612.4 1153.5,611.2 1161.5,624.5 1169.5,616.3 1177.5,616.3" fill="none" stroke="#1e90ff" stroke-width="1" stroke-linejoin="round" shape-rendering="crispEdges"/>
</g>
<g font-family="'Liberation Sans', sans-serif">
<path d="M12 11 L19.4 11 L15.7 15.2 Z" fill="#000"/>
<text x="23.7" y="16" font-size="10.17" fill="#000" stroke="#000" stroke-width="0.15" text-anchor="start" textLength="43.4" lengthAdjust="spacingAndGlyphs">UKOil-,H4</text>
<text x="73.5" y="16" font-size="10.17" fill="#000" stroke="#000" stroke-width="0.15" text-anchor="start" textLength="31.6" lengthAdjust="spacingAndGlyphs">107.211</text>
<text x="109.65" y="16" font-size="10.17" fill="#000" stroke="#000" stroke-width="0.15" text-anchor="start" textLength="31.6" lengthAdjust="spacingAndGlyphs">107.424</text>
<text x="145.8" y="16" font-size="10.17" fill="#000" stroke="#000" stroke-width="0.15" text-anchor="start" textLength="31.6" lengthAdjust="spacingAndGlyphs">107.075</text>
<text x="181.95" y="16" font-size="10.17" fill="#000" stroke="#000" stroke-width="0.15" text-anchor="start" textLength="31.6" lengthAdjust="spacingAndGlyphs">107.190</text>
<text x="12.5" y="448" font-size="10.17" fill="#000" stroke="#000" stroke-width="0.15" text-anchor="start" textLength="130.5" lengthAdjust="spacingAndGlyphs">MACD(12,26,9) -0.0401 0.6952</text>
<text x="12.5" y="565" font-size="10.17" fill="#000" stroke="#000" stroke-width="0.15" text-anchor="start" textLength="67.5" lengthAdjust="spacingAndGlyphs">RSI(14) 46.3677</text>
<rect x="1197" y="34" width="2" height="1" fill="#000000"/>
<text x="1202.4" y="38" font-size="10.17" fill="#000" stroke="#000" stroke-width="0.15" text-anchor="start" textLength="32" lengthAdjust="spacingAndGlyphs">123.130</text>
<rect x="1197" y="67" width="2" height="1" fill="#000000"/>
<text x="1202.4" y="71" font-size="10.17" fill="#000" stroke="#000" stroke-width="0.15" text-anchor="start" textLength="32" lengthAdjust="spacingAndGlyphs">120.855</text>
<rect x="1197" y="100" width="2" height="1" fill="#000000"/>
<text x="1202.4" y="104" font-size="10.17" fill="#000" stroke="#000" stroke-width="0.15" text-anchor="start" textLength="32" lengthAdjust="spacingAndGlyphs">118.645</text>
<rect x="1197" y="133" width="2" height="1" fill="#000000"/>
<text x="1202.4" y="137" font-size="10.17" fill="#000" stroke="#000" stroke-width="0.15" text-anchor="start" textLength="32" lengthAdjust="spacingAndGlyphs">116.435</text>
<rect x="1197" y="166" width="2" height="1" fill="#000000"/>
<text x="1202.4" y="170" font-size="10.17" fill="#000" stroke="#000" stroke-width="0.15" text-anchor="start" textLength="32" lengthAdjust="spacingAndGlyphs">114.225</text>
<rect x="1197" y="199" width="2" height="1" fill="#000000"/>
<text x="1202.4" y="203" font-size="10.17" fill="#000" stroke="#000" stroke-width="0.15" text-anchor="start" textLength="32" lengthAdjust="spacingAndGlyphs">111.950</text>
<rect x="1197" y="232" width="2" height="1" fill="#000000"/>
<text x="1202.4" y="236" font-size="10.17" fill="#000" stroke="#000" stroke-width="0.15" text-anchor="start" textLength="32" lengthAdjust="spacingAndGlyphs">109.740</text>
<rect x="1197" y="265" width="2" height="1" fill="#000000"/>
<text x="1202.4" y="269" font-size="10.17" fill="#000" stroke="#000" stroke-width="0.15" text-anchor="start" textLength="32" lengthAdjust="spacingAndGlyphs">107.530</text>
<rect x="1197" y="298" width="2" height="1" fill="#000000"/>
<text x="1202.4" y="302" font-size="10.17" fill="#000" stroke="#000" stroke-width="0.15" text-anchor="start" textLength="32" lengthAdjust="spacingAndGlyphs">105.320</text>
<rect x="1197" y="331" width="2" height="1" fill="#000000"/>
<text x="1202.4" y="335" font-size="10.17" fill="#000" stroke="#000" stroke-width="0.15" text-anchor="start" textLength="32" lengthAdjust="spacingAndGlyphs">103.045</text>
<rect x="1197" y="364" width="2" height="1" fill="#000000"/>
<text x="1202.4" y="368" font-size="10.17" fill="#000" stroke="#000" stroke-width="0.15" text-anchor="start" textLength="32" lengthAdjust="spacingAndGlyphs">100.835</text>
<rect x="1197" y="397" width="2" height="1" fill="#000000"/>
<text x="1202.4" y="401" font-size="10.17" fill="#000" stroke="#000" stroke-width="0.15" text-anchor="start" textLength="26.8" lengthAdjust="spacingAndGlyphs">98.625</text>
<rect x="1197" y="430" width="2" height="1" fill="#000000"/>
<text x="1202.4" y="434" font-size="10.17" fill="#000" stroke="#000" stroke-width="0.15" text-anchor="start" textLength="26.8" lengthAdjust="spacingAndGlyphs">96.415</text>
<rect x="1199" y="265" width="39" height="11" fill="#000000"/>
<rect x="1197" y="265" width="2" height="1" fill="#000000"/>
<rect x="1199" y="74" width="39" height="11" fill="#ff0000"/>
<text x="1202.6" y="83.1" font-size="10.17" fill="#fff" stroke="#fff" stroke-width="0.15" text-anchor="start" textLength="31.8" lengthAdjust="spacingAndGlyphs">120.000</text>
<rect x="1199" y="178" width="39" height="11" fill="#ff0000"/>
<text x="1202.6" y="187.1" font-size="10.17" fill="#fff" stroke="#fff" stroke-width="0.15" text-anchor="start" textLength="31.8" lengthAdjust="spacingAndGlyphs">113.000</text>
<rect x="1199" y="267" width="39" height="11" fill="#00c800"/>
<text x="1202.6" y="276.1" font-size="10.17" fill="#fff" stroke="#fff" stroke-width="0.15" text-anchor="start" textLength="31.8" lengthAdjust="spacingAndGlyphs">107.000</text>
<rect x="1199" y="348" width="39" height="11" fill="#4159e0"/>
<text x="1202.6" y="357.1" font-size="10.17" fill="#fff" stroke="#fff" stroke-width="0.15" text-anchor="start" textLength="31.8" lengthAdjust="spacingAndGlyphs">101.500</text>
<rect x="1197" y="437" width="1" height="1" fill="#000000"/>
<rect x="1197" y="488" width="1" height="1" fill="#000000"/>
<rect x="1197" y="549" width="1" height="1" fill="#000000"/>
<rect x="1197" y="554" width="1" height="1" fill="#000000"/>
<rect x="1197" y="669" width="1" height="1" fill="#000000"/>
<text x="1199.6" y="446" font-size="10.17" fill="#000" stroke="#000" stroke-width="0.15" text-anchor="start" textLength="27.7" lengthAdjust="spacingAndGlyphs">3.7553</text>
<text x="1199.6" y="492" font-size="10.17" fill="#000" stroke="#000" stroke-width="0.15" text-anchor="start" textLength="17.6" lengthAdjust="spacingAndGlyphs">0.00</text>
<text x="1199.6" y="547" font-size="10.17" fill="#000" stroke="#000" stroke-width="0.15" text-anchor="start" textLength="25.5" lengthAdjust="spacingAndGlyphs">-4.503</text>
<text x="1199.8" y="563" font-size="10.17" fill="#000" stroke="#000" stroke-width="0.15" text-anchor="start" textLength="14.2" lengthAdjust="spacingAndGlyphs">100</text>
<text x="1198.4" y="592" font-size="10.17" fill="#000" stroke="#000" stroke-width="0.15" text-anchor="start" textLength="9.6" lengthAdjust="spacingAndGlyphs">70</text>
<text x="1198.4" y="639" font-size="10.17" fill="#000" stroke="#000" stroke-width="0.15" text-anchor="start" textLength="9.6" lengthAdjust="spacingAndGlyphs">30</text>
<text x="1199.6" y="667" font-size="10.17" fill="#000" stroke="#000" stroke-width="0.15" text-anchor="start" textLength="4.6" lengthAdjust="spacingAndGlyphs">0</text>
<rect x="9" y="671" width="1" height="3" fill="#000000"/>
<text x="8.4" y="683" font-size="10.17" fill="#000" stroke="#000" stroke-width="0.15" text-anchor="start" textLength="51.9" lengthAdjust="spacingAndGlyphs">16 Mar 2022</text>
<rect x="73" y="671" width="1" height="3" fill="#000000"/>
<text x="72.4" y="683" font-size="10.17" fill="#000" stroke="#000" stroke-width="0.15" text-anchor="start" textLength="54.3" lengthAdjust="spacingAndGlyphs">17 Mar 12:00</text>
<rect x="137" y="671" width="1" height="3" fill="#000000"/>
<text x="136.4" y="683" font-size="10.17" fill="#000" stroke="#000" stroke-width="0.15" text-anchor="start" textLength="54.3" lengthAdjust="spacingAndGlyphs">21 Mar 00:00</text>
<rect x="201" y="671" width="1" height="3" fill="#000000"/>
<text x="200.4" y="683" font-size="10.17" fill="#000" stroke="#000" stroke-width="0.15" text-anchor="start" textLength="54.3" lengthAdjust="spacingAndGlyphs">22 Mar 08:00</text>
<rect x="265" y="671" width="1" height="3" fill="#000000"/>
<text x="264.4" y="683" font-size="10.17" fill="#000" stroke="#000" stroke-width="0.15" text-anchor="start" textLength="54.3" lengthAdjust="spacingAndGlyphs">23 Mar 16:00</text>
<rect x="329" y="671" width="1" height="3" fill="#000000"/>
<text x="328.4" y="683" font-size="10.17" fill="#000" stroke="#000" stroke-width="0.15" text-anchor="start" textLength="54.3" lengthAdjust="spacingAndGlyphs">25 Mar 00:00</text>
<rect x="393" y="671" width="1" height="3" fill="#000000"/>
<text x="392.4" y="683" font-size="10.17" fill="#000" stroke="#000" stroke-width="0.15" text-anchor="start" textLength="54.3" lengthAdjust="spacingAndGlyphs">28 Mar 08:00</text>
<rect x="457" y="671" width="1" height="3" fill="#000000"/>
<text x="456.4" y="683" font-size="10.17" fill="#000" stroke="#000" stroke-width="0.15" text-anchor="start" textLength="54.3" lengthAdjust="spacingAndGlyphs">29 Mar 20:00</text>
<rect x="521" y="671" width="1" height="3" fill="#000000"/>
<text x="520.4" y="683" font-size="10.17" fill="#000" stroke="#000" stroke-width="0.15" text-anchor="start" textLength="54.3" lengthAdjust="spacingAndGlyphs">31 Mar 04:00</text>
<rect x="585" y="671" width="1" height="3" fill="#000000"/>
<text x="584.4" y="683" font-size="10.17" fill="#000" stroke="#000" stroke-width="0.15" text-anchor="start" textLength="48.2" lengthAdjust="spacingAndGlyphs">1 Apr 12:00</text>
<rect x="649" y="671" width="1" height="3" fill="#000000"/>
<text x="648.4" y="683" font-size="10.17" fill="#000" stroke="#000" stroke-width="0.15" text-anchor="start" textLength="48.2" lengthAdjust="spacingAndGlyphs">4 Apr 20:00</text>
<rect x="713" y="671" width="1" height="3" fill="#000000"/>
<text x="712.4" y="683" font-size="10.17" fill="#000" stroke="#000" stroke-width="0.15" text-anchor="start" textLength="48.2" lengthAdjust="spacingAndGlyphs">6 Apr 04:00</text>
<rect x="777" y="671" width="1" height="3" fill="#000000"/>
<text x="776.4" y="683" font-size="10.17" fill="#000" stroke="#000" stroke-width="0.15" text-anchor="start" textLength="48.2" lengthAdjust="spacingAndGlyphs">7 Apr 12:00</text>
<rect x="841" y="671" width="1" height="3" fill="#000000"/>
<text x="840.4" y="683" font-size="10.17" fill="#000" stroke="#000" stroke-width="0.15" text-anchor="start" textLength="48.2" lengthAdjust="spacingAndGlyphs">8 Apr 20:00</text>
<rect x="905" y="671" width="1" height="3" fill="#000000"/>
<text x="904.4" y="683" font-size="10.17" fill="#000" stroke="#000" stroke-width="0.15" text-anchor="start" textLength="53.2" lengthAdjust="spacingAndGlyphs">12 Apr 04:00</text>
<rect x="969" y="671" width="1" height="3" fill="#000000"/>
<text x="968.4" y="683" font-size="10.17" fill="#000" stroke="#000" stroke-width="0.15" text-anchor="start" textLength="53.2" lengthAdjust="spacingAndGlyphs">13 Apr 12:00</text>
<rect x="1033" y="671" width="1" height="3" fill="#000000"/>
<text x="1032.4" y="683" font-size="10.17" fill="#000" stroke="#000" stroke-width="0.15" text-anchor="start" textLength="53.2" lengthAdjust="spacingAndGlyphs">14 Apr 20:00</text>
<rect x="1097" y="671" width="1" height="3" fill="#000000"/>
<text x="1096.4" y="683" font-size="10.17" fill="#000" stroke="#000" stroke-width="0.15" text-anchor="start" textLength="53.2" lengthAdjust="spacingAndGlyphs">19 Apr 04:00</text>
<rect x="1161" y="671" width="1" height="3" fill="#000000"/>
<text x="1160.4" y="683" font-size="10.17" fill="#000" stroke="#000" stroke-width="0.15" text-anchor="start" textLength="53.2" lengthAdjust="spacingAndGlyphs">20 Apr 12:00</text>
</g>
<g fill="#ff0000" role="img" aria-label="多空转折点107"><title>多空转折点107</title>
<text x="740.3" y="144.8" font-size="35" fill="#ff0000" text-anchor="start" font-family="'Liberation Sans', 'Noto Sans CJK SC', sans-serif">多空转折点<tspan x="913.5" y="144.2" textLength="56" lengthAdjust="spacingAndGlyphs">107</tspan></text>
</g>
</svg>
</body>
</html>
